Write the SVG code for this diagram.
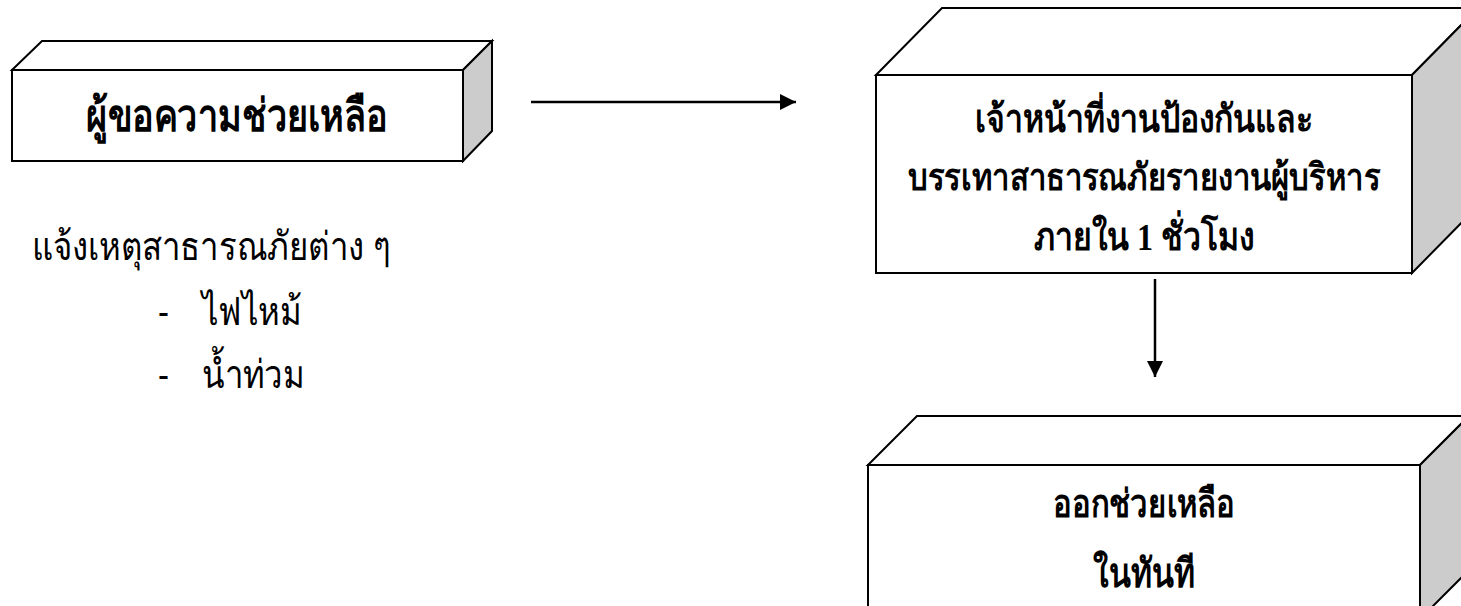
<svg xmlns="http://www.w3.org/2000/svg" width="1461" height="606" viewBox="0 0 1461 606">
<defs>
<style>
.front{fill:#fff;stroke:#000;stroke-width:2}
.top{fill:#fff;stroke:#000;stroke-width:2}
.side{fill:#cccccc;stroke:#000;stroke-width:2}
.bt{font-family:"Liberation Serif",serif;font-weight:bold;fill:#000;text-anchor:middle}
.nt{font-family:"Liberation Sans","Noto Sans",sans-serif;fill:#000}
.conn{stroke:#000;stroke-width:2.5;fill:none}
</style>
<marker id="ah" markerWidth="16" markerHeight="16" refX="16" refY="8" orient="auto" markerUnits="userSpaceOnUse" viewBox="0 0 16 16">
<path d="M0,0 L16,8 L0,16 z" fill="#000"/>
</marker>
</defs>
<rect width="1461" height="606" fill="#fff"/>
<g id="node-requester">
<polygon class="top" points="12,70 42,41 492,41 463,70"/>
<polygon class="side" points="463,70 492,41 492,131 463,161"/>
<rect class="front" x="12" y="70" width="451" height="91"/>
<text class="bt" transform="translate(237,131) scale(1,1.25)" font-size="36">ผู้ขอความช่วยเหลือ</text>
</g>
<g id="node-officer">
<polygon class="top" points="876,75 942,8 1478,8 1412,75"/>
<polygon class="side" points="1412,75 1478,8 1478,206 1412,273"/>
<rect class="front" x="876" y="75" width="536" height="198"/>
<text class="bt" transform="translate(1144,132) scale(1,1.2)" font-size="32">เจ้าหน้าที่งานป้องกันและ</text>
<text class="bt" transform="translate(1144,190) scale(1,1.2)" font-size="31">บรรเทาสาธารณภัยรายงานผู้บริหาร</text>
<text class="bt" transform="translate(1144,250) scale(1,1.2)" font-size="32">ภายใน 1 ชั่วโมง</text>
</g>
<g id="node-help">
<polygon class="top" points="868,465 917,416 1469,416 1420,465"/>
<polygon class="side" points="1420,465 1469,416 1469,570 1420,619"/>
<rect class="front" x="868" y="465" width="552" height="160"/>
<text class="bt" transform="translate(1144,517) scale(1,1.25)" font-size="31">ออกช่วยเหลือ</text>
<text class="bt" transform="translate(1144,587) scale(1,1.25)" font-size="32">ในทันที</text>
</g>
<g id="note">
<text class="nt" transform="translate(32,260) scale(1,1.2)" font-size="33">แจ้งเหตุสาธารณภัยต่าง ๆ</text>
<text class="nt" transform="translate(158,325) scale(1,1.2)" font-size="33">-</text>
<text class="nt" transform="translate(202,325) scale(1,1.2)" font-size="33">ไฟไหม้</text>
<text class="nt" transform="translate(158,388) scale(1,1.2)" font-size="33">-</text>
<text class="nt" transform="translate(202,388) scale(1,1.2)" font-size="33">น้ำท่วม</text>
</g>
<g id="connectors">
<line class="conn" x1="531" y1="102" x2="796" y2="102" marker-end="url(#ah)"/>
<line class="conn" x1="1155" y1="279" x2="1155" y2="377" marker-end="url(#ah)"/>
</g>
</svg>
